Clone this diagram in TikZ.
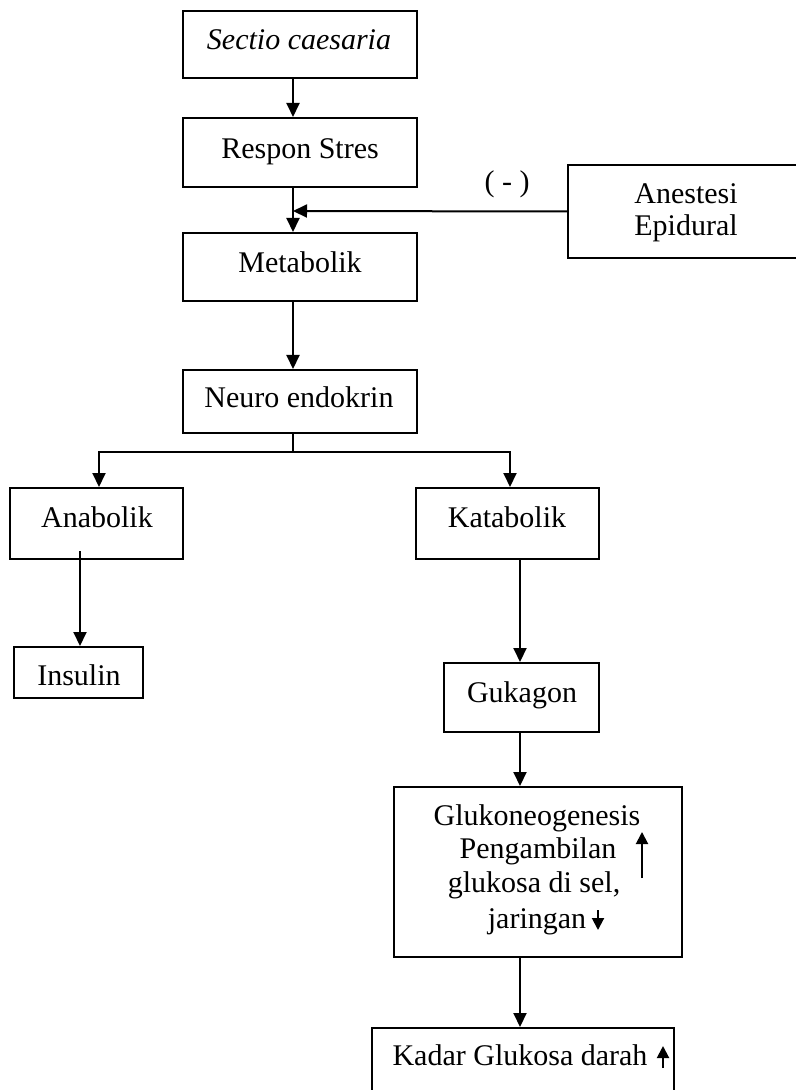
\documentclass[tikz,border=0pt]{standalone}
\usepackage{fontspec}
\setmainfont{Liberation Serif}
\usetikzlibrary{arrows.meta}
\begin{document}
\begin{tikzpicture}[x=0.5pt,y=-0.5pt,
  box/.style={draw=black,line width=1pt,rectangle,inner sep=0pt,fill=none},
  txt/.style={inner sep=0pt,anchor=base,font=\fontsize{15}{18}\selectfont},
  arr/.style={draw=black,line width=1pt,-{Triangle[length=7pt,width=6.5pt]}},
  sarr/.style={draw=black,line width=1pt,-{Triangle[length=6pt,width=6pt]}},
  plain/.style={draw=black,line width=1pt}]
\useasboundingbox (0,0) rectangle (796,1090);
\fill[white] (0,0) rectangle (796,1090);
% boxes
\node[box,minimum width=117pt,minimum height=33.5pt] (sc) at (300,44.5) {};
\node[box,minimum width=117pt,minimum height=34.5pt] (rs) at (300,152.5) {};
\node[box,minimum width=117pt,minimum height=34pt] (me) at (300,267) {};
\node[box,minimum width=117pt,minimum height=31.5pt] (ne) at (300,401.5) {};
\node[box,minimum width=126pt,minimum height=46.5pt] (ae) at (694,211.5) {};
\node[box,minimum width=86.5pt,minimum height=35.5pt] (an) at (96.5,523.5) {};
\node[box,minimum width=91.5pt,minimum height=35.5pt] (ka) at (507.5,523.5) {};
\node[box,minimum width=64.5pt,minimum height=25.5pt] (in) at (78.5,672.5) {};
\node[box,minimum width=77.5pt,minimum height=34.5pt] (gu) at (521.5,697.5) {};
\node[box,minimum width=144pt,minimum height=85pt] (gl) at (538,872) {};
\node[box,minimum width=151pt,minimum height=41pt] (kd) at (523,1069) {};
% texts
\node[txt] (tsc) at (299,50) {\itshape Sectio caesaria};
\node[txt] (trs) at (300,159) {Respon Stres};
\node[txt] (tme) at (300,273) {Metabolik};
\node[txt] (tne) at (299,408) {Neuro endokrin};
\node[txt] (tae1) at (686,204) {Anestesi};
\node[txt] (tae2) at (686,236) {Epidural};
\node[txt] (tneg) at (507,192) {( - )};
\node[txt] (tan) at (97,527) {Anabolik};
\node[txt] (tka) at (507,527) {Katabolik};
\node[txt] (tin) at (79,685) {Insulin};
\node[txt] (tgu) at (522,702) {Gukagon};
\node[txt] (tgl1) at (537,825) {Glukoneogenesis};
\node[txt] (tgl2) at (538,858) {Pengambilan};
\node[txt] (tgl3) at (534,892) {glukosa di sel,};
\node[txt] (tgl4) at (537,928) {jaringan};
\node[txt] (tkd) at (520,1065) {Kadar Glukosa darah};
% helper coordinates
\coordinate (c1) at (293,0);
\coordinate (jn) at (293,211);
\coordinate (bM) at (293,452);
\coordinate (bL) at (99,452);
\coordinate (bR) at (510,452);
\coordinate (as) at (80,551);
\coordinate (c2) at (520,0);
\coordinate (u1a) at (642,878);
\coordinate (u1b) at (642,832);
\coordinate (d1a) at (598,910);
\coordinate (d1b) at (598,930);
\coordinate (u2a) at (663,1068);
\coordinate (u2b) at (663,1046);
% connectors
\draw[arr] (sc.south -| c1) -- (rs.north -| c1);
\draw[arr] (rs.south -| c1) -- (me.north -| c1);
\draw[arr] (ae.west) -- (jn);
\draw[arr] (me.south -| c1) -- (ne.north -| c1);
\draw[plain] (ne.south -| bM) -- (bM);
\draw[arr] (bM) -- (bL) -- (an.north -| bL);
\draw[arr] (bM) -- (bR) -- (ka.north -| bR);
\draw[arr] (as) -- (in.north -| as);
\draw[arr] (ka.south -| c2) -- (gu.north -| c2);
\draw[arr] (gu.south -| c2) -- (gl.north -| c2);
\draw[arr] (gl.south -| c2) -- (kd.north -| c2);
\draw[sarr] (u1a) -- (u1b);
\draw[sarr] (d1a) -- (d1b);
\draw[sarr] (u2a) -- (u2b);
\end{tikzpicture}
\end{document}
